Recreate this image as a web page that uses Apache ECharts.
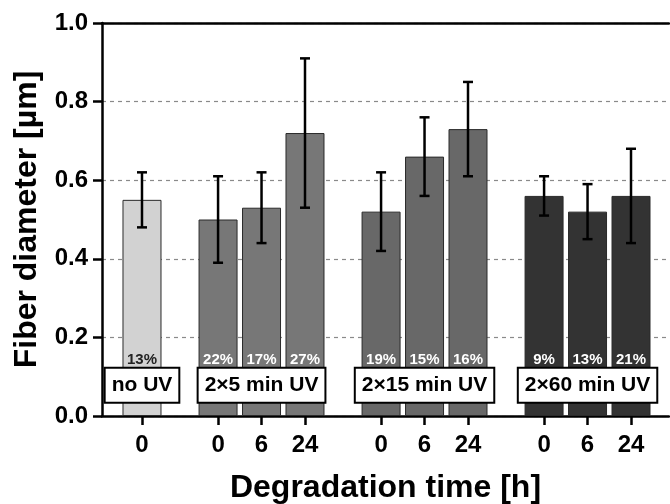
<!DOCTYPE html>
<html>
<head>
<meta charset="utf-8">
<script src="https://cdn.jsdelivr.net/npm/echarts@6/dist/echarts.min.js"></script>
<style>html,body{margin:0;padding:0;background:#fff}#c{width:670px;height:504px}</style>
</head>
<body>
<div id="c"></div>
<script>
// ---- data ----
const groups = ['no UV', '2×5 min UV', '2×15 min UV', '2×60 min UV'];
const timeLabels = [['0'], ['0', '6', '24'], ['0', '6', '24'], ['0', '6', '24']];
const means = [[0.55], [0.50, 0.53, 0.72], [0.52, 0.66, 0.73], [0.56, 0.52, 0.56]];
const errHigh = [[0.62], [0.61, 0.62, 0.91], [0.62, 0.76, 0.85], [0.61, 0.59, 0.68]];
const errLow = [[0.48], [0.39, 0.44, 0.53], [0.42, 0.56, 0.61], [0.51, 0.45, 0.44]];
const percents = [['13%'], ['22%', '17%', '27%'], ['19%', '15%', '16%'], ['9%', '13%', '21%']];

// ---- layout / style ----
const colors = ['#d2d2d2', '#777777', '#686868', '#333333'];
const labelColors = ['#222222', '#ffffff', '#ffffff', '#ffffff'];
const groupGap = 0.75;
const FONT = 'Liberation Sans, Arial, Helvetica, sans-serif';

const positions = [], tickText = {}, barData = [], errData = [], boxData = [];
let cursor = 0;
groups.forEach((g, gi) => {
  const start = cursor;
  means[gi].forEach((m, j) => {
    const p = +(cursor).toFixed(3);
    positions.push(p);
    tickText[p] = timeLabels[gi][j];
    barData.push({
      value: [p, m],
      itemStyle: { color: colors[gi] },
      label: { color: labelColors[gi], formatter: percents[gi][j] }
    });
    errData.push([p, errLow[gi][j], errHigh[gi][j]]);
    cursor += 1;
  });
  boxData.push([(start + cursor - 1) / 2, 0.078, gi]);
  cursor += groupGap;
});
const lastPos = positions[positions.length - 1];

const chart = echarts.init(document.getElementById('c'));
chart.setOption({
  animation: false,
  grid: { left: 102, right: 1, top: 23, bottom: 88, containLabel: false, outerBoundsMode: 'none' },
  xAxis: [{
    type: 'value', min: -0.92, max: lastPos + 0.874,
    name: 'Degradation time [h]', nameLocation: 'middle', nameGap: 56,
    nameTextStyle: { fontFamily: FONT, fontWeight: 'bold', fontSize: 32, color: '#000' },
    axisLine: { show: true, onZero: false, lineStyle: { color: '#000', width: 2.5 } },
    axisTick: { show: true, customValues: positions, length: 9, lineStyle: { color: '#000', width: 2.5 } },
    axisLabel: {
      customValues: positions, margin: 17,
      formatter: v => tickText[+(+v).toFixed(3)] || '',
      fontFamily: FONT, fontWeight: 'bold', fontSize: 24, color: '#000'
    },
    splitLine: { show: false }
  }, {
    type: 'value', position: 'top', min: -0.92, max: lastPos + 0.874,
    axisLine: { show: true, onZero: false, lineStyle: { color: '#000', width: 2.5 } },
    axisTick: { show: false }, axisLabel: { show: false }, splitLine: { show: false }
  }],
  yAxis: {
    type: 'value', min: 0, max: 1, interval: 0.2,
    name: 'Fiber diameter [µm]', nameLocation: 'middle', nameGap: 59,
    nameTextStyle: { fontFamily: FONT, fontWeight: 'bold', fontSize: 32, color: '#000' },
    axisLine: { show: true, onZero: false, lineStyle: { color: '#000', width: 2.5 } },
    axisTick: { show: true, length: 9, lineStyle: { color: '#000', width: 2.5 } },
    axisLabel: {
      margin: 14, formatter: v => (+v).toFixed(1),
      fontFamily: FONT, fontWeight: 'bold', fontSize: 24, color: '#000'
    },
    splitLine: { show: true, lineStyle: { color: '#8a8a8a', type: [4, 4], width: 1.2 } }
  },
  series: [{
    type: 'bar', data: barData, barWidth: 39, z: 2,
    itemStyle: { borderColor: '#2a2a2a', borderWidth: 1 },
    label: {
      show: true, position: 'insideBottom', distance: 49,
      fontFamily: FONT, fontWeight: 'bold', fontSize: 15
    }
  }, {
    type: 'custom', z: 5, data: errData,
    renderItem: (params, api) => {
      const x = api.value(0);
      const lo = api.coord([x, api.value(1)]);
      const hi = api.coord([x, api.value(2)]);
      const cap = 5;
      const st = { stroke: '#000', lineWidth: 2.5 };
      return {
        type: 'group', children: [
          { type: 'line', shape: { x1: lo[0], y1: lo[1], x2: hi[0], y2: hi[1] }, style: st },
          { type: 'line', shape: { x1: lo[0] - cap, y1: lo[1], x2: lo[0] + cap, y2: lo[1] }, style: st },
          { type: 'line', shape: { x1: hi[0] - cap, y1: hi[1], x2: hi[0] + cap, y2: hi[1] }, style: st }
        ]
      };
    }
  }, {
    type: 'custom', z: 6, data: boxData,
    renderItem: (params, api) => {
      const pt = api.coord([api.value(0), api.value(1)]);
      return {
        type: 'text', x: pt[0], y: pt[1],
        style: {
          text: groups[api.value(2)], align: 'center', verticalAlign: 'middle',
          fontFamily: FONT, fontWeight: 'bold', fontSize: 21, fill: '#000',
          backgroundColor: '#fff', borderColor: '#000', borderWidth: 2,
          padding: [6, 6]
        }
      };
    }
  }]
});
</script>
</body>
</html>
